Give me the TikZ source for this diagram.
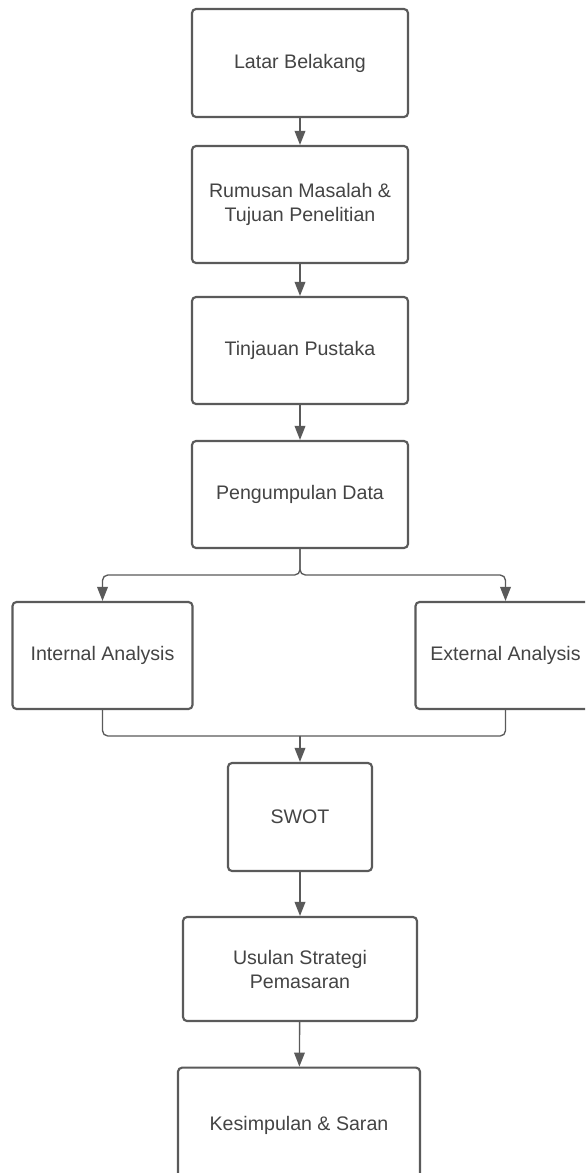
\documentclass[tikz,border=0pt]{standalone}
\usepackage{fontspec}
\setmainfont{Liberation Sans}
\usetikzlibrary{arrows.meta}
\definecolor{garis}{HTML}{5A5A5A}
\definecolor{teks}{HTML}{444444}
\tikzset{
  kotak/.style = {draw = garis, line width = 1.6pt, rounded corners = 3pt, fill = white,
     text = teks, align = center, font = \fontsize{14.7}{18}\selectfont, inner sep = 0pt},
  panah/.style = {draw = garis, line width = 1pt, -{Triangle[length = 10.5pt, width = 8pt]}},
  garisbiasa/.style = {draw = garis, line width = 1pt},
}
\begin{document}
\begin{tikzpicture} [x = 0.75pt, y = -0.75pt]
	\clip (0, 0) rectangle (585, 1173);
	\fill[white] (0, 0) rectangle (585, 1173);
	 \node [kotak, minimum width = 162pt, minimum height = 81pt] (latar) at (300, 63) {Latar Belakang};
	 \node [kotak, minimum width = 162pt, minimum height = 87.75pt] (rumusan) at (300, 204.5) {Rumusan Masalah \&\\Tujuan Penelitian};
	 \node [kotak, minimum width = 162pt, minimum height = 80.25pt] (tinjauan) at (300, 350.5) {Tinjauan Pustaka};
	 \node [kotak, minimum width = 162pt, minimum height = 80.25pt] (data) at (300, 494.5) {Pengumpulan Data};
	\node [kotak, minimum width = 135pt, minimum height = 80.25pt] (internal) at (102.5, 655.5) {Internal Analysis};
	\node [kotak, minimum width = 135pt, minimum height = 80.25pt] (eksternal) at (505.5, 655.5) {External Analysis};
		\node [kotak, minimum width = 108pt, minimum height = 81pt] (swot) at (300, 817) {SWOT};
		\node [kotak, minimum width = 175.5pt, minimum height = 78pt] (usulan) at (300, 969) {Usulan Strategi\\Pemasaran};
		\node [kotak, minimum width = 181.5pt, minimum height = 86pt] (simpulan) at (299, 1125) {Kesimpulan \& Saran};
%	alur utama
	\draw [panah] (latar) -- (rumusan);
	\draw [panah] (rumusan) -- (tinjauan);
	\draw [panah] (tinjauan) -- (data);
	\coordinate (cabang) at (300, 575);
	\coordinate (gabung) at (300, 736);
	\draw [panah, rounded corners = 4pt] (data.south) -- (cabang) -| (internal.north);
	\draw [panah, rounded corners = 4pt] (data.south) -- (cabang) -| (eksternal.north);
	\draw [garisbiasa, rounded corners = 4pt] (internal.south) |- (gabung);
	\draw [garisbiasa, rounded corners = 4pt] (eksternal.south) |- (gabung);
	\draw [panah] (gabung) -- (swot.north);
	\draw [panah] (swot) -- (usulan);
		\draw [panah] (usulan) -- (simpulan);
\end{tikzpicture}
\end{document}
